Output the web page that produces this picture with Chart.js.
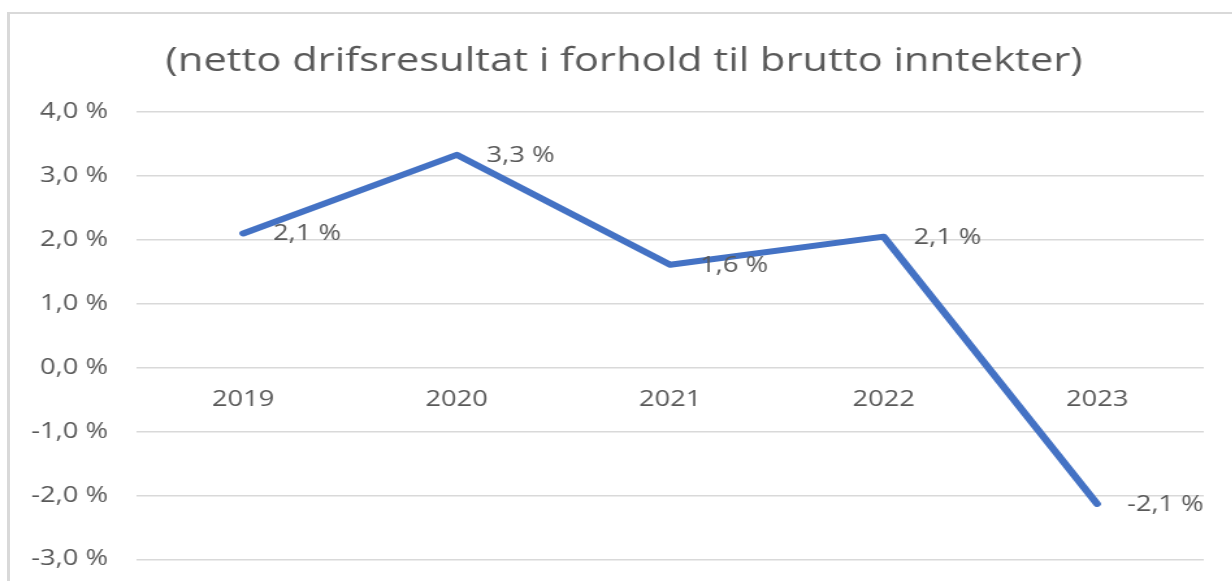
<!DOCTYPE html>
<html>
<head>
<meta charset="utf-8">
<script src="https://cdn.jsdelivr.net/npm/chart.js@4"></script>
<style>
  html, body { margin: 0; padding: 0; background: #ffffff; overflow: hidden; width: 1232px; height: 581px; }
  #frame { position: absolute; left: 7px; top: 12px; width: 1400px; height: 800px; border-left: 3px solid #d9d9d9; border-top: 2px solid #d9d9d9; }
  #wrap { position: absolute; left: 0; top: 0; width: 948px; height: 581px; transform: scaleX(1.3); transform-origin: 0 0; }
</style>
</head>
<body>
<div id="frame"></div>
<div id="wrap"><canvas id="c"></canvas></div>
<script>
const categories = ['2019', '2020', '2021', '2022', '2023'];
const values = [2.10, 3.33, 1.61, 2.05, -2.13];
const labelTexts = ['2,1 %', '3,3 %', '1,6 %', '2,1 %', '-2,1 %'];
const yMin = -3, yMax = 4, yStep = 1;
const titleText = '(netto drifsresultat i forhold til brutto inntekter)';

const FONT = "'Open Sans', 'Noto Sans', sans-serif";
const GREY = '#595959';

const titleDraw = {
  id: 'titleDraw',
  afterDraw(chart) {
    const ctx = chart.ctx;
    ctx.save();
    ctx.font = '32px ' + FONT;
    ctx.fillStyle = GREY;
    ctx.textAlign = 'center';
    ctx.textBaseline = 'middle';
    ctx.fillText(titleText, 480, 62);
    ctx.restore();
  }
};

const pointLabels = {
  id: 'pointLabels',
  afterDatasetsDraw(chart) {
    const ctx = chart.ctx;
    const meta = chart.getDatasetMeta(0);
    ctx.save();
    ctx.font = '21px ' + FONT;
    ctx.fillStyle = GREY;
    ctx.textAlign = 'left';
    ctx.textBaseline = 'middle';
    meta.data.forEach((pt, i) => {
      ctx.fillText(labelTexts[i], pt.x + 23, pt.y + 1);
    });
    ctx.restore();
  }
};

new Chart(document.getElementById('c'), {
  type: 'line',
  data: {
    labels: categories,
    datasets: [{
      data: values,
      borderColor: '#4472C4',
      borderWidth: 6,
      borderCapStyle: 'round',
      borderJoinStyle: 'round',
      pointRadius: 0,
      tension: 0,
      fill: false
    }]
  },
  options: {
    responsive: true,
    maintainAspectRatio: false,
    animation: false,
    layout: { padding: { left: 0, right: 22, top: 112, bottom: 21.5 } },
    plugins: {
      legend: { display: false },
      tooltip: { enabled: false },
      title: { display: false }
    },
    scales: {
      x: {
        position: { y: 0 },
        offset: true,
        grid: { display: false, drawTicks: false },
        border: { display: false },
        ticks: { color: GREY, font: { family: FONT, size: 21 }, padding: 20, maxRotation: 0 },
        afterFit(s) { s.height = 0; }
      },
      y: {
        min: yMin,
        max: yMax,
        grid: { color: '#d9d9d9', lineWidth: 1.5, drawTicks: false },
        border: { display: false },
        ticks: {
          stepSize: yStep,
          color: GREY,
          font: { family: FONT, size: 21 },
          padding: 22,
          callback: v => v.toFixed(1).replace('.', ',') + ' %'
        },
        afterFit(s) { s.width = 105; s.paddingTop = 0; s.paddingBottom = 0; }
      }
    }
  },
  plugins: [pointLabels, titleDraw]
});
</script>
</body>
</html>
